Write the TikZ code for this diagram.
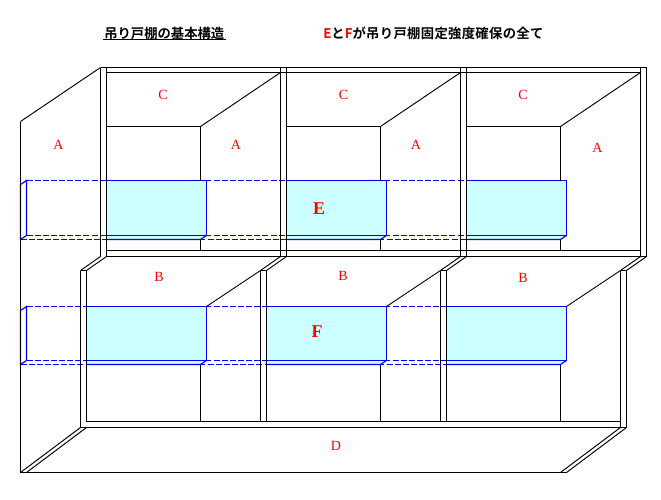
\documentclass[tikz,border=0pt]{standalone}
\usepackage{fontspec}
\setmainfont{Liberation Serif}
\newfontfamily\jpfont[BoldFont=* Bold]{Noto Sans CJK JP}
\definecolor{panelcyan}{RGB}{204,255,255}
\definecolor{lineblue}{RGB}{0,0,255}
\definecolor{labelred}{RGB}{255,0,0}
\tikzset{
  frameline/.style={black,line width=0.85pt},
  slantline/.style={black,line width=0.7pt},
  bluesolid/.style={lineblue,line width=0.85pt},
  bluedash/.style={lineblue,line width=0.85pt,dash pattern=on 4.5pt off 1.6pt},
  panel/.style={fill=panelcyan,draw=none},
  partlabel/.style={text=labelred,font=\fontsize{10.5pt}{12pt}\selectfont,inner sep=0pt},
  biglabel/.style={text=labelred,font=\fontsize{13.5pt}{15pt}\selectfont\bfseries,inner sep=0pt},
  titletext/.style={font=\jpfont\bfseries\fontsize{10pt}{12pt}\selectfont,inner sep=0pt,anchor=west}
}
\begin{document}
\begin{tikzpicture}[x=0.75pt,y=-0.75pt]
\useasboundingbox (0,0) rectangle (661,500);
\fill[white] (0,0) rectangle (661,500);
% cyan panels
\foreach \a in {106.5,286.5,466.5}
  \fill[panel] (\a,180.5) -| ({\a+100},235.5) -- ({\a+94},239.5) -- (\a,239.5) -- cycle;
\foreach \a in {86.5,266.5,446.5}
  \fill[panel] (\a,306.5) -| (206.5+\a-86.5,360.5) -- (200.5+\a-86.5,364.5) -- (\a,364.5) -- cycle;
% blue beams
\foreach \t/\b/\c in {180.5/235.5/239.5,306.5/360.5/364.5}{
  \draw[bluedash] (26.5,\t) -- (566.5,\t);
  \draw[bluedash] (26.5,\b) -- (566.5,\b);
  \draw[bluedash] (20.5,\c) -- (560.5,\c);
  \draw[bluesolid] (20.5,\t+4) -- (26.5,\t) -- (26.5,\b) -- (20.5,\c) -- cycle;
}
\foreach \l/\r in {106.5/206.5,286.5/386.5,466.5/566.5}{
  \draw[bluesolid] (\l,180.5) -- (\r,180.5) -- (\r,235.5) -- (\l,235.5);
  \draw[bluesolid] (\l,239.5) -- (\r-6,239.5) -- (\r,235.5);
}
\foreach \l/\r in {86.5/206.5,266.5/386.5,446.5/566.5}{
  \draw[bluesolid] (\l,306.5) -- (\r,306.5) -- (\r,360.5) -- (\l,360.5);
  \draw[bluesolid] (\l,364.5) -- (\r-6,364.5) -- (\r,360.5);
}
% outer frame
\draw[frameline] (20.5,472.5) -- (20.5,121.5);
\draw[slantline] (20.5,121.5) -- (100.5,67.5);
\draw[frameline] (100.5,67.5) -- (646.5,67.5);
\draw[frameline] (106.5,72.5) -- (640.5,72.5);
\draw[frameline] (106.5,250.5) -- (640.5,250.5);
\draw[frameline] (106.5,256.5) -- (646.5,256.5);
% upper posts
\foreach \x in {100.5,280.5,460.5,640.5}{
  \draw[frameline] (\x,67.5) -- (\x,256.5);
  \draw[frameline] (\x+6,67.5) -- (\x+6,256.5);
  \draw[slantline] (\x,256.5) -- (\x-20,270.5);
  \draw[slantline] (\x+6,256.5) -- (\x-14,270.5);
}
% upper bays
\foreach \x in {106.5,286.5,466.5}{
  \draw[frameline] (\x,126.5) -- (\x+94,126.5) -- (\x+94,180.5);
  \draw[slantline] (\x+94,126.5) -- (\x+174,72.5);
  \draw[frameline] (\x+94,239.5) -- (\x+94,250.5);
}
% lower posts
\foreach \x in {80.5,260.5,440.5,620.5}{
  \draw[frameline] (\x,270.5) -- (\x+6,270.5);
  \draw[frameline] (\x,270.5) -- (\x,421.5);
  \draw[frameline] (\x+6,270.5) -- (\x+6,421.5);
}
\draw[frameline] (80.5,421.5) -- (80.5,427.5);
\draw[frameline] (626.5,421.5) -- (626.5,427.5);
\draw[frameline] (620.5,421.5) -- (620.5,427.5);
\draw[frameline] (86.5,421.5) -- (620.5,421.5);
\draw[frameline] (80.5,427.5) -- (626.5,427.5);
% lower bays
\foreach \x in {206.5,386.5,566.5}{
  \draw[slantline] (\x,306.5) -- (\x+54,270.5);
  \draw[frameline] (\x-6,364.5) -- (\x-6,421.5);
}
% floor
\draw[frameline] (20.5,472.5) -- (566.5,472.5);
\draw[slantline] (80.5,427.5) -- (20.5,472.5);
\draw[slantline] (86.5,427.5) -- (26.5,472.5);
\draw[slantline] (620.5,427.5) -- (560.5,472.5);
\draw[slantline] (626.5,427.5) -- (566.5,472.5);
% labels
\node[partlabel] (a1) at (58.5,145) {A};
\node[partlabel] (a2) at (236,145) {A};
\node[partlabel] (a3) at (416,145) {A};
\node[partlabel] (a4) at (597.5,148) {A};
\node[partlabel] (c1) at (163,95) {C};
\node[partlabel] (c2) at (343.5,95) {C};
\node[partlabel] (c3) at (523,95) {C};
\node[partlabel] (b1) at (159,277) {B};
\node[partlabel] (b2) at (343,276) {B};
\node[partlabel] (b3) at (523,278) {B};
\node[partlabel] (d1) at (336,446) {D};
\node[biglabel] (e1) at (319,209) {E};
\node[biglabel] (f1) at (317,332) {F};
% titles
\node[titletext] (t1) at (104,33) {吊り戸棚の基本構造};
\draw[black,line width=0.85pt] (103,39.5) -- (226,39.5);
\node[titletext] (t2) at (323,33) {\addfontfeatures{LetterSpace=2.4}\textcolor{labelred}{E}と\textcolor{labelred}{F}が吊り戸棚固定強度確保の全て};
\end{tikzpicture}
\end{document}
